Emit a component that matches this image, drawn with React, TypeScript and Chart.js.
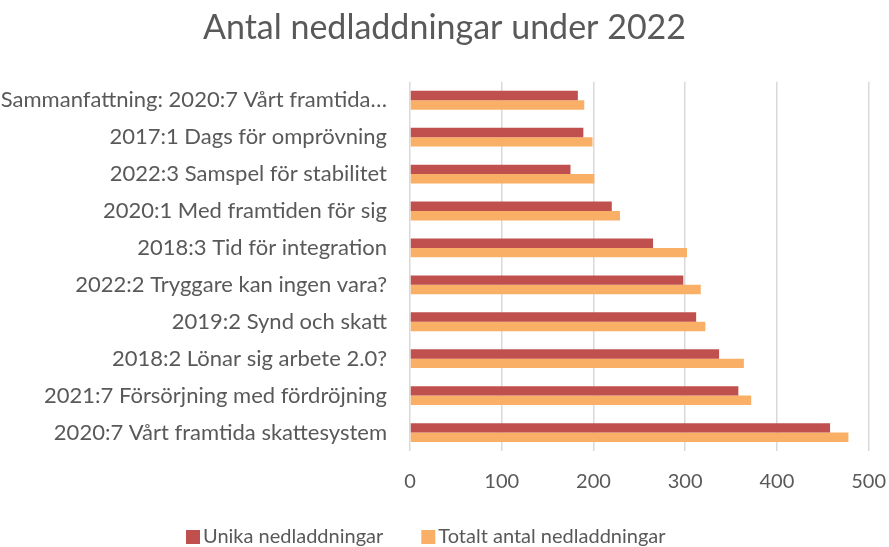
import React, { useEffect, useRef } from "react";
import { Chart, registerables } from "chart.js";

Chart.register(...registerables);

const title = "Antal nedladdningar under 2022";
const categories = [
  "Sammanfattning: 2020:7 Vårt framtida…",
  "2017:1 Dags för omprövning",
  "2022:3 Samspel för stabilitet",
  "2020:1 Med framtiden för sig",
  "2018:3 Tid för integration",
  "2022:2 Tryggare kan ingen vara?",
  "2019:2 Synd och skatt",
  "2018:2 Lönar sig arbete 2.0?",
  "2021:7 Försörjning med fördröjning",
  "2020:7 Vårt framtida skattesystem",
];
const seriesNames = ["Unika nedladdningar", "Totalt antal nedladdningar"];
const unika = [183, 189, 175, 220, 265, 298, 312, 337, 358, 458];
const totalt = [190, 199, 201, 229, 302, 317, 322, 364, 372, 478];
const xTicks = [0, 100, 200, 300, 400, 500];

const FONT = "Lato";
const TEXT = "#595959";
const COLORS = ["#C0504D", "#F9B066"];

const customLegend = {
  id: "customLegend",
  afterDraw(chart: any) {
    const ctx = chart.ctx as CanvasRenderingContext2D;
    ctx.save();
    ctx.font = `20px ${FONT}`;
    ctx.textBaseline = "middle";
    ctx.textAlign = "left";
    let x = 186;
    const yc = 537;
    chart.data.datasets.forEach((ds: any) => {
      ctx.fillStyle = ds.backgroundColor;
      ctx.fillRect(x, yc - 7, 14, 14);
      x += 17;
      ctx.fillStyle = TEXT;
      ctx.fillText(ds.label, x, yc);
      x += ctx.measureText(ds.label).width + 38;
    });
    ctx.restore();
  },
};

export default function App() {
  const ref = useRef<HTMLCanvasElement>(null);
  useEffect(() => {
    document.body.style.margin = "0";
    const ctx = ref.current!;
    const chart = new Chart(ctx, {
      type: "bar",
      data: {
        labels: categories,
        datasets: [
          { label: seriesNames[0], data: unika, backgroundColor: COLORS[0], borderWidth: 0 },
          { label: seriesNames[1], data: totalt, backgroundColor: COLORS[1], borderWidth: 0 },
        ],
      },
      plugins: [customLegend],
      options: {
        indexAxis: "y",
        animation: false,
        responsive: true,
        maintainAspectRatio: false,
        layout: { padding: { left: 0, right: 0, top: 0, bottom: 50 } },
        datasets: { bar: { categoryPercentage: 0.51, barPercentage: 1.0 } },
        scales: {
          x: {
            min: xTicks[0],
            max: xTicks[xTicks.length - 1],
            afterBuildTicks: (s: any) => {
              s.ticks = xTicks.map((v) => ({ value: v }));
            },
            grid: {
              color: "#d9d9d9",
              lineWidth: 1.5,
              drawTicks: true,
              tickLength: 16,
              tickColor: "rgba(0,0,0,0)",
            },
            border: { display: false },
            ticks: { color: TEXT, font: { family: FONT, size: 20 }, padding: 3 },
          },
          y: {
            grid: { display: false, drawTicks: false },
            border: { display: false },
            afterFit: (s: any) => {
              s.width = 410;
            },
            ticks: { color: TEXT, font: { family: FONT, size: 22 }, padding: 23, autoSkip: false },
          },
        },
        plugins: {
          title: {
            display: true,
            text: title,
            color: TEXT,
            font: { family: FONT, size: 34, weight: "normal" },
            padding: { top: 8, bottom: 33 },
          },
          legend: { display: false },
          tooltip: { enabled: false },
        },
      },
    });
    return () => chart.destroy();
  }, []);
  return (
    <div style={{ width: 889, height: 547, position: "relative" }}>
      <canvas ref={ref} />
    </div>
  );
}
